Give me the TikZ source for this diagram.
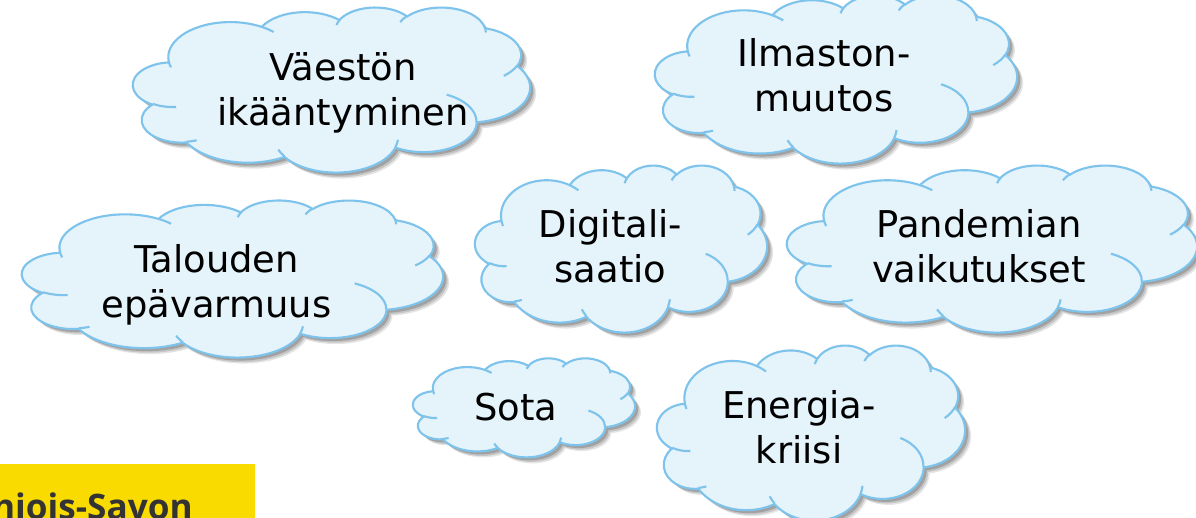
\documentclass[tikz,border=0pt]{standalone}
\usepackage{fontspec}
\setmainfont{DejaVu Sans}
\newfontfamily\psfont{Open Sans}
\definecolor{cloudfill}{RGB}{229,243,251}
\definecolor{cloudline}{RGB}{125,195,235}
\definecolor{psyellow}{RGB}{250,219,0}
\definecolor{pstext}{RGB}{51,51,51}
\tikzset{
  cloudbody/.style={fill=cloudfill, draw=cloudline, line width=1.2pt,
    preaction={fill=black, opacity=0.10, transform canvas={shift={(3.4pt,-3.4pt)}}},
    preaction={fill=black, opacity=0.14, transform canvas={shift={(2.6pt,-2.6pt)}}},
    preaction={fill=black, opacity=0.18, transform canvas={shift={(1.7pt,-1.7pt)}}}},
  cloudinner/.style={draw=cloudline, line width=1.2pt},
  lbl/.style={align=center, inner sep=0pt, text=black,
    font=\fontsize{21}{25.5}\selectfont},
  pptcloud/.pic={
    \path[cloudbody] (39.00,143.70)
      arc[start angle=172.255, end angle=300.37, x radius=67.53, y radius=91.90]
      arc[start angle=-152.02, end angle=-45.47, x radius=53.33, y radius=72.67]
      arc[start angle=-153.50, end angle=-37.33, x radius=43.65, y radius=59.45]
      arc[start angle=-139.71, end angle=-10.21, x radius=48.57, y radius=65.95]
      arc[start angle=-74.77, end angle=23.21, x radius=53.33, y radius=72.73]
      arc[start angle=-37.53, end angle=81.86, x radius=67.75, y radius=92.20]
      arc[start angle=0.46, end angle=121.97, x radius=57.85, y radius=78.67]
      arc[start angle=16.84, end angle=146.23, x radius=67.52, y radius=92.15]
      arc[start angle=58.98, end angle=150.20, x radius=77.20, y radius=105.43]
      arc[start angle=83.31, end angle=223.11, x radius=43.60, y radius=59.18]
      arc[start angle=120.35, end angle=264.11, x radius=43.45, y radius=59.45]
      -- cycle;
    \draw[cloudinner]
      (46.93,261.77) arc[start angle=85.55, end angle=120.35, x radius=43.45, y radius=59.45]
      (69.28,348.99) arc[start angle=68.24, end angle=83.31, x radius=43.60, y radius=59.18]
      (164.78,390.90) arc[start angle=146.23, end angle=158.47, x radius=67.52, y radius=92.15]
      (288.27,347.51) arc[start angle=4.74, end angle=16.84, x radius=67.52, y radius=92.15]
      (341.29,229.54) arc[start angle=-64.03, end angle=0.46, x radius=57.85, y radius=78.67]
      (417.98,153.54) arc[start angle=23.21, end angle=49.63, x radius=53.33, y radius=72.73]
      (383.24,54.26) arc[start angle=-10.21, end angle=0.82, x radius=48.57, y radius=65.95]
      (290.78,39.52) arc[start angle=-156.29, end angle=-139.71, x radius=48.57, y radius=65.95]
      (221.41,47.20) arc[start angle=-167.72, end angle=-153.50, x radius=43.65, y radius=59.45]
      (140.00,51.92) arc[start angle=-59.63, end angle=-45.75, x radius=67.53, y radius=91.90]
      (41.27,157.89) arc[start angle=163.19, end angle=172.25, x radius=67.53, y radius=91.90];
  }
}
\begin{document}
\begin{tikzpicture}[x=0.02cm, y=-0.02cm]
  \useasboundingbox (0,0) rectangle (1196,517);
  \clip (0,0) rectangle (1196,517);
  % clouds (top-left corner, width/432, height/432)
  \pic[xscale={397/432}, yscale={165/432}] at (133,7) {pptcloud};
  \pic[xscale={362/432}, yscale={168/432}] at (655,-5) {pptcloud};
  \pic[xscale={421/432}, yscale={157/432}] at (22,200) {pptcloud};
  \pic[xscale={292/432}, yscale={167/432}] at (475,165) {pptcloud};
  \pic[xscale={410/432}, yscale={167/432}] at (787,165) {pptcloud};
  \pic[xscale={222/432}, yscale={99/432}] at (413,358) {pptcloud};
  \pic[xscale={308/432}, yscale={175/432}] at (657,345) {pptcloud};
  % labels
  \node[lbl] (vaesto) at (343,92.8) {Väestön\\ikääntyminen};
  \node[lbl] (ilmasto) at (824,75) {Ilmaston-\\muutos};
  \node[lbl] (talous) at (216.5,284.8) {Talouden\\epävarmuus};
  \node[lbl] (digi) at (610.5,246) {Digitali-\\saatio};
  \node[lbl] (pandemia) at (979,246) {Pandemian\\vaikutukset};
  \node[lbl] (sota) at (516,407) {Sota};
  \node[lbl] (energia) at (799,427) {Energia-\\kriisi};
  % yellow logo band
  \fill[psyellow] (-5,464) rectangle (255,530);
  \node[anchor=base east, inner sep=0pt, text=pstext,
        font=\psfont\bfseries\fontsize{20}{24}\selectfont] (logo) at (193,519) {Pohjois-Savon};
\end{tikzpicture}
\end{document}
